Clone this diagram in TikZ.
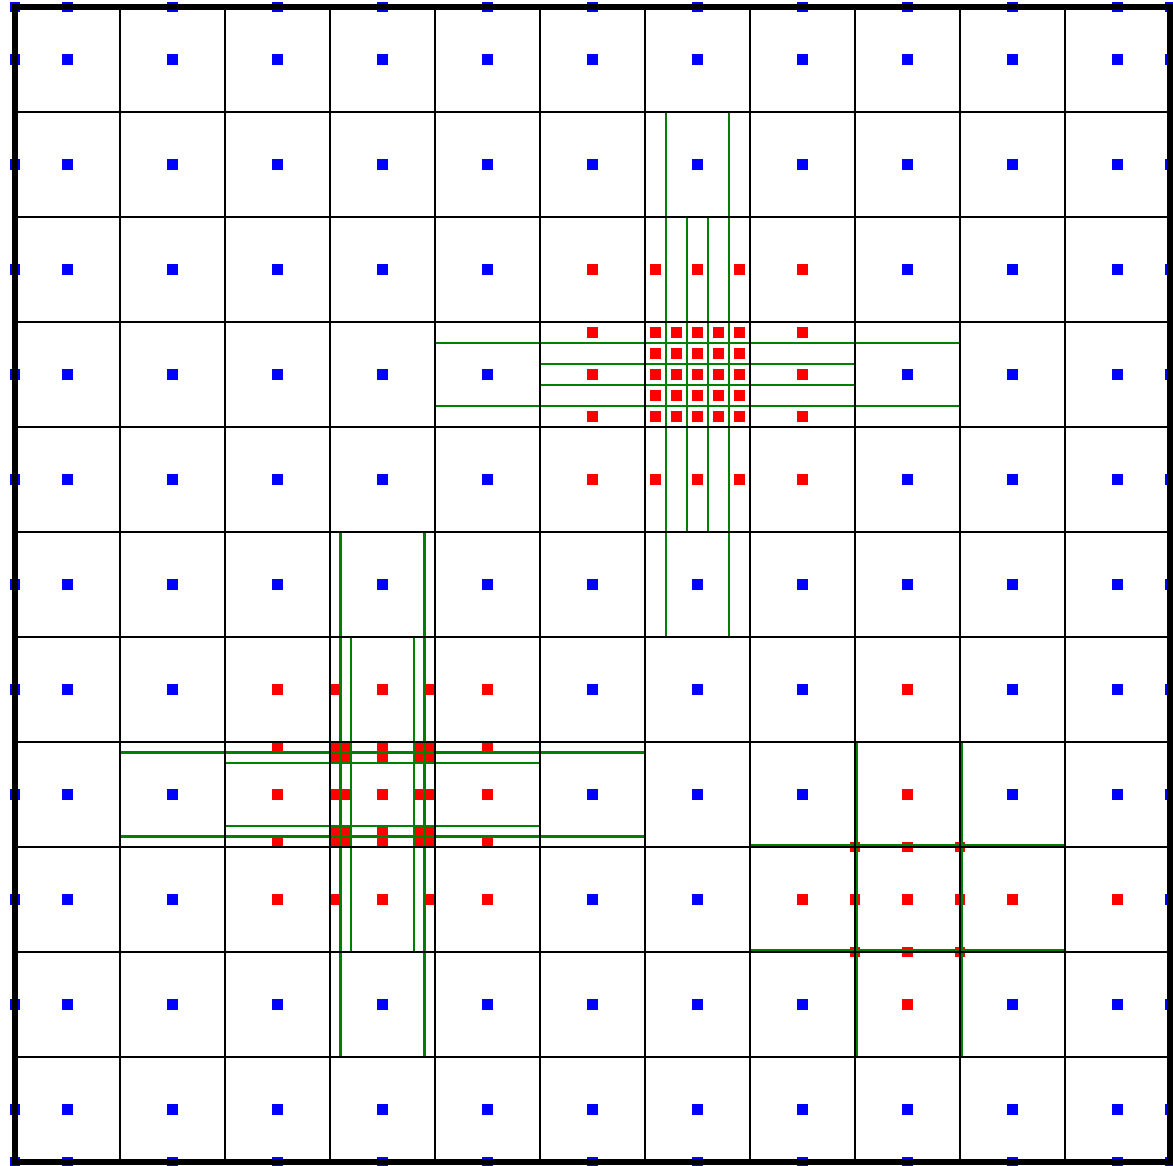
\documentclass[tikz,border=0pt]{standalone}
\usepackage{tikz}
\usetikzlibrary{calc}
\definecolor{refgreen}{RGB}{0,128,0}

\begin{document}
\begin{tikzpicture}[
  x=1cm, y=-1cm,
  gridln/.style={black, line width=0.55pt},
  frame/.style={black, line width=1.8pt},
  refln/.style={refgreen, line width=0.55pt},
  bluept/.style={fill=blue},
  redpt/.style={fill=red}
]
\useasboundingbox (-0.143,-0.067) rectangle (11.029,11.038);

% Cell centres
\foreach \c in {0,...,10}
  \foreach \r in {0,...,10}
    \fill[bluept] (\c+0.5-0.049,\r+0.5-0.049) rectangle ++(0.098,0.098);

% Boundary points
\foreach \k in {0.5,1.5,...,10.5} {
  \fill[bluept] (-0.049,\k-0.049) rectangle ++(0.098,0.098);
  \fill[bluept] (11-0.049,\k-0.049) rectangle ++(0.098,0.098);
  \fill[bluept] (\k-0.049,-0.049) rectangle ++(0.098,0.098);
  \fill[bluept] (\k-0.049,11-0.049) rectangle ++(0.098,0.098);
}
\foreach \x/\y in {0/0,11/0,0/11,11/11}
  \fill[bluept] (\x-0.049,\y-0.049) rectangle ++(0.098,0.098);

% Refinement 1: cell (6,3)
\foreach \x in {6.1,6.3,6.5,6.7,6.9}
  \foreach \y in {3.1,3.3,3.5,3.7,3.9}
    \fill[redpt] (\x-0.049,\y-0.049) rectangle ++(0.098,0.098);
\foreach \x in {5.5,6.1,6.5,6.9,7.5}
  \foreach \y in {2.5,4.5}
    \fill[redpt] (\x-0.049,\y-0.049) rectangle ++(0.098,0.098);
\foreach \x in {5.5,7.5}
  \foreach \y in {3.1,3.5,3.9}
    \fill[redpt] (\x-0.049,\y-0.049) rectangle ++(0.098,0.098);

% Refinement 2: cell (3,7)
\foreach \x in {3.05,3.15,3.5,3.85,3.95}
  \foreach \y in {7.05,7.15,7.5,7.85,7.95}
    \fill[redpt] (\x-0.049,\y-0.049) rectangle ++(0.098,0.098);
\foreach \x in {2.5,3.05,3.5,3.95,4.5}
  \foreach \y in {6.5,8.5}
    \fill[redpt] (\x-0.049,\y-0.049) rectangle ++(0.098,0.098);
\foreach \x in {2.5,4.5}
  \foreach \y in {7.05,7.5,7.95}
    \fill[redpt] (\x-0.049,\y-0.049) rectangle ++(0.098,0.098);

% Refinement 3: cell (8,8)
\foreach \x in {8,8.5,9}
  \foreach \y in {8,8.5,9}
    \fill[redpt] (\x-0.049,\y-0.049) rectangle ++(0.098,0.098);
\foreach \x/\y in {8.5/7.5,8.5/9.5,7.5/8.5,9.5/8.5,8.5/6.5,10.5/8.5}
  \fill[redpt] (\x-0.049,\y-0.049) rectangle ++(0.098,0.098);

% Sub-cell lines
\foreach \x in {6.2,6.8} \draw[refln] (\x,1) -- (\x,6);
\foreach \x in {6.4,6.6} \draw[refln] (\x,2) -- (\x,5);
\foreach \y in {3.2,3.8} \draw[refln] (4,\y) -- (9,\y);
\foreach \y in {3.4,3.6} \draw[refln] (5,\y) -- (8,\y);

\foreach \x in {3.1,3.9} \draw[refln] (\x,5) -- (\x,10);
\foreach \x in {3.2,3.8} \draw[refln] (\x,6) -- (\x,9);
\foreach \y in {7.1,7.9} \draw[refln] (1,\y) -- (6,\y);
\foreach \y in {7.2,7.8} \draw[refln] (2,\y) -- (5,\y);

\foreach \x in {8.018,9.018} \draw[refln] (\x,7) -- (\x,10);
\foreach \y in {7.98,8.98} \draw[refln] (7,\y) -- (10,\y);

% Base grid
\draw[gridln] (0,0) grid (11,11);
\draw[frame] (0,0) rectangle (11,11);

\end{tikzpicture}
\end{document}
